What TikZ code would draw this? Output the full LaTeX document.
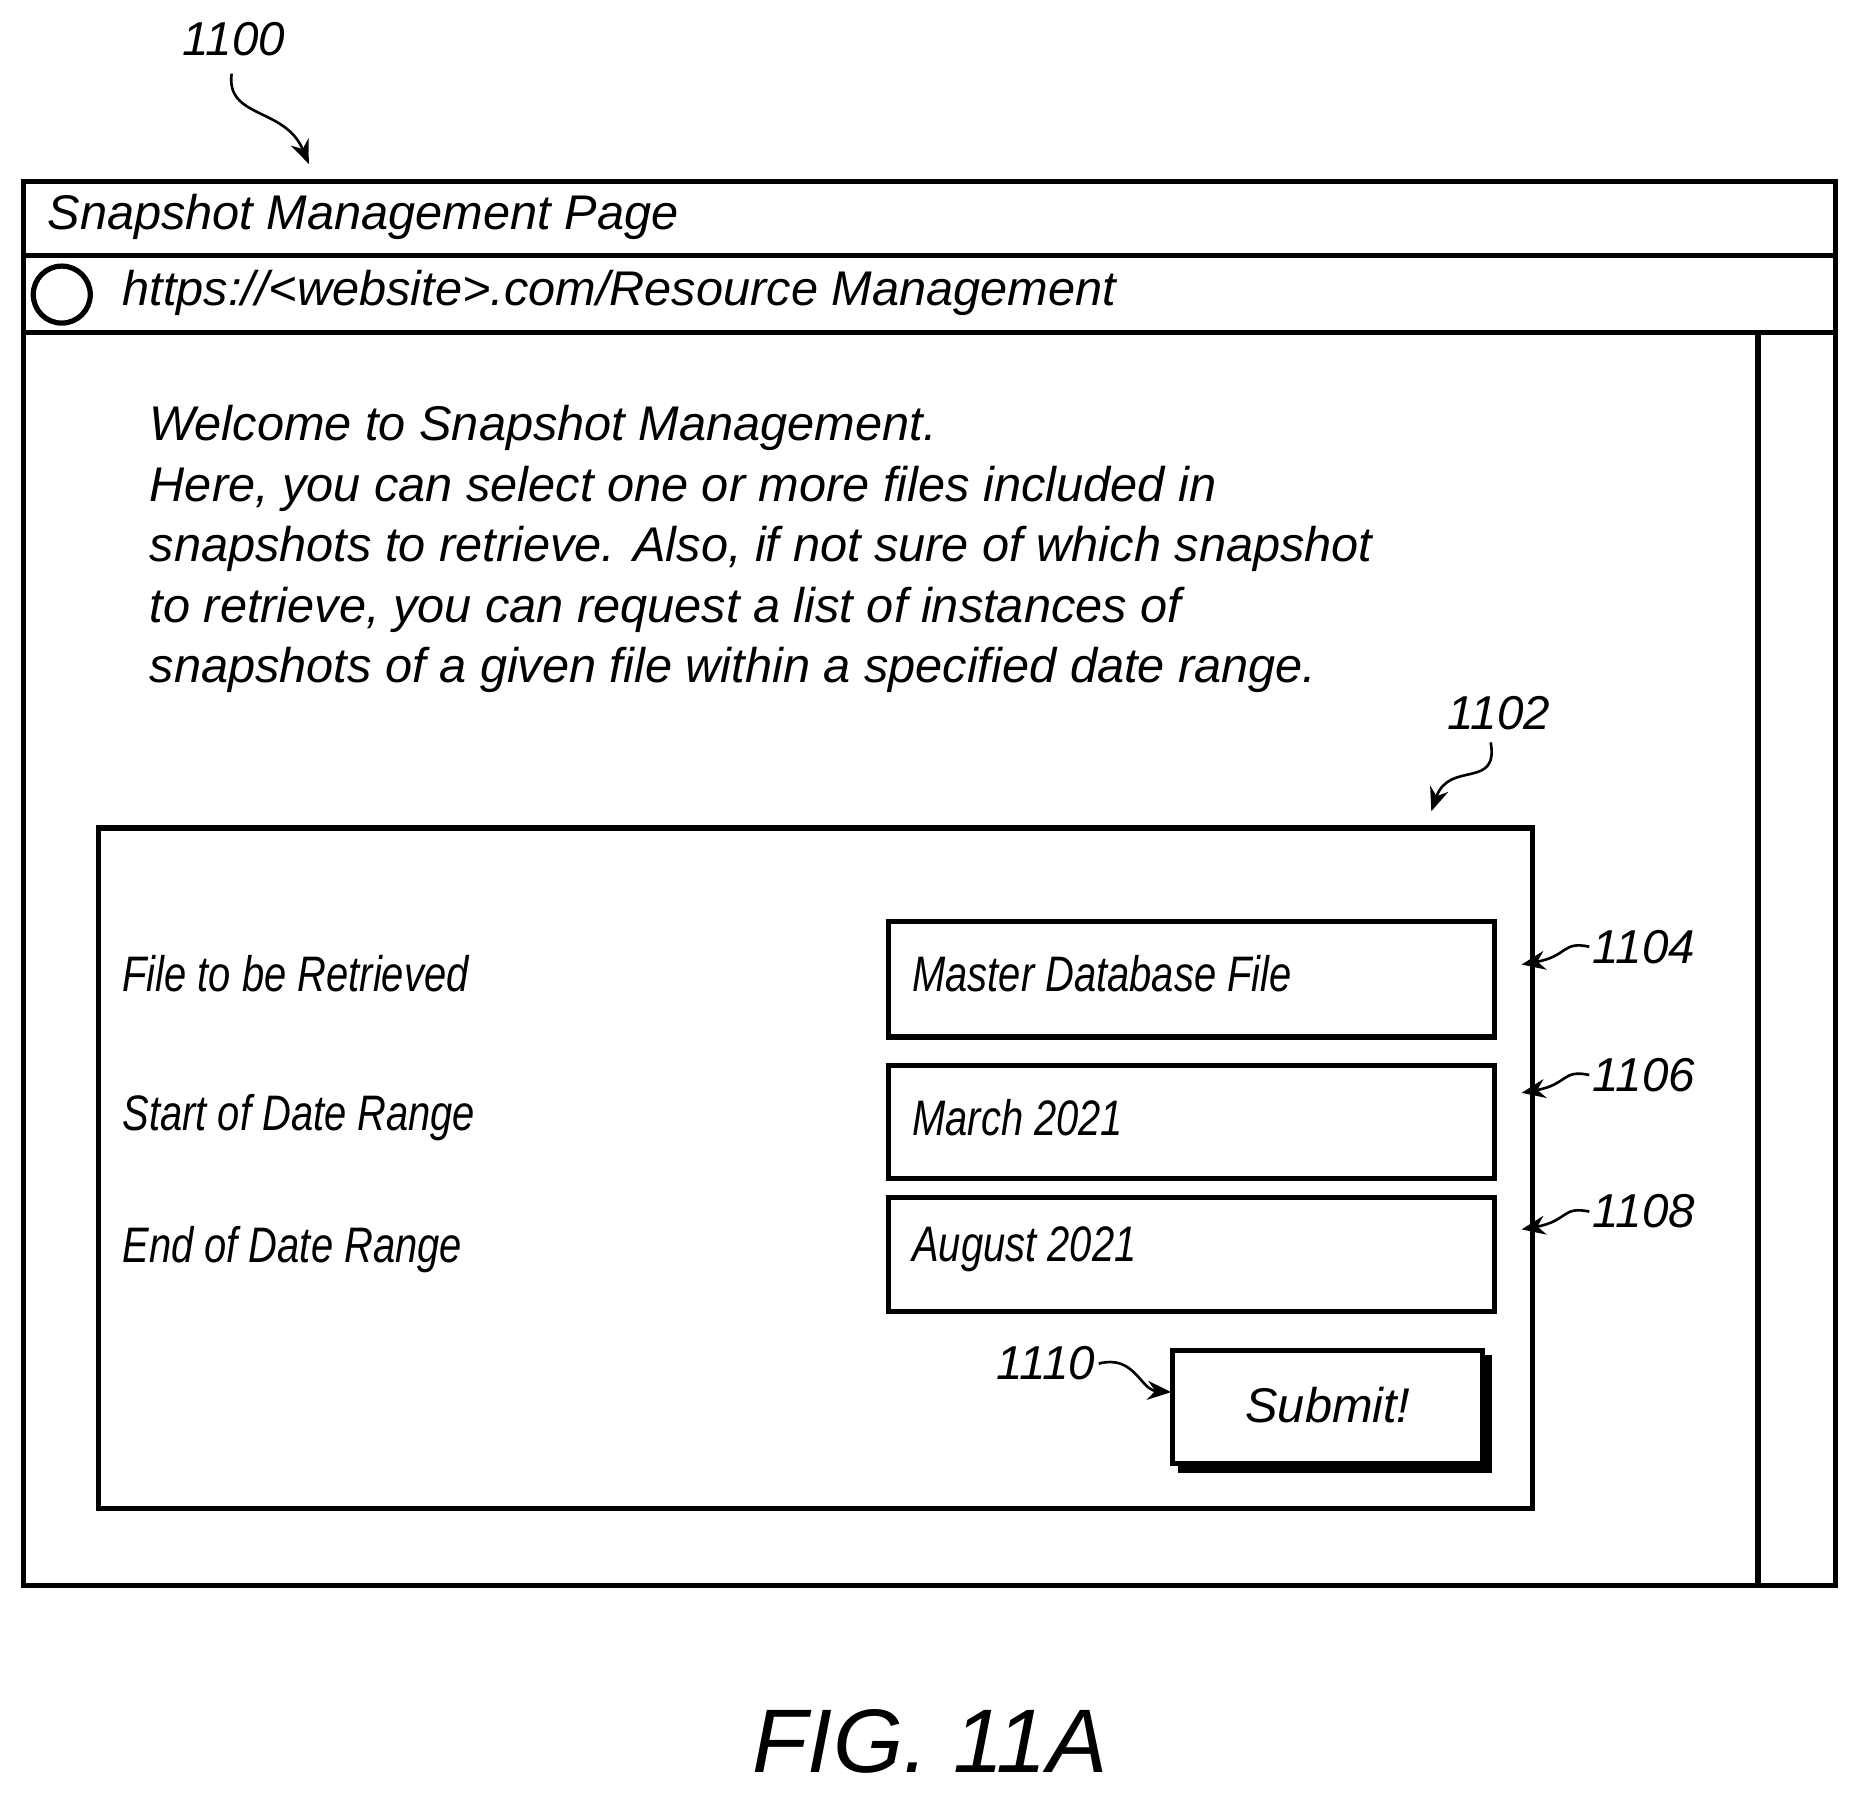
\documentclass[tikz,border=0pt]{standalone}
\usepackage{fontspec}
\setmainfont{Liberation Sans}
\newfontfamily\narrowfont{Liberation Sans}[FakeStretch=0.80]
\usetikzlibrary{arrows.meta}
\tikzset{every picture/.style={line width=1.6pt}}
\tikzset{
  frame/.style={draw, line width=2.2pt},
  reftext/.style={font=\fontsize{20}{24}\selectfont\itshape, inner sep=0.75pt},
  pagetext/.style={font=\fontsize{20.5}{25.5}\selectfont\itshape, inner sep=0.75pt},
  formtext/.style={font=\narrowfont\fontsize{21}{25}\selectfont\itshape, inner sep=0.75pt},
  refarrow/.style={-{Stealth[length=10pt,width=8pt]}, line width=1.1pt},
}
\begin{document}
\begin{tikzpicture}[x=0.5pt,y=0.5pt,yscale=-1,xscale=1]
\useasboundingbox (0,0) rectangle (1560,1512);

%Window
\draw [frame] (20,153) rectangle (1545,1335) ;
\draw [frame] (20,215) -- (1545,215) ;
\draw [frame] (20,280) -- (1545,280) ;
\draw [frame] (1480,280) -- (1480,1335) ;
\draw [frame] (52,248) circle (24) ;

% Text Node
\node (title) [pagetext, anchor=west] at (37,183) {Snapshot Management Page};
\node (url) [pagetext, anchor=west] at (100,247) {https://<website>.com/Resource Management};
\node (welcome) [pagetext, anchor=north west, align=left, font=\fontsize{20.5}{25.5}\selectfont\itshape] at (123,338)
  {Welcome to Snapshot Management.\\
   Here, you can select one or more files included in\\
   snapshots to retrieve. Also, if not sure of which snapshot\\
   to retrieve, you can request a list of instances of\\
   snapshots of a given file within a specified date range.};

%Form
\draw [frame] (83,697) rectangle (1290,1270) ;
\node (lfile) [formtext, anchor=west] at (100,820) {File to be Retrieved};
\node (lstart) [formtext, anchor=west] at (100,941) {Start of Date Range};
\node (lend) [formtext, anchor=west] at (100,1052) {End of Date Range};

\draw [frame] (748,776) rectangle (1258,873) ;
\draw [frame] (748,897) rectangle (1258,992) ;
\draw [frame] (748,1008) rectangle (1258,1104) ;
\node (ffile) [formtext, anchor=west] at (765,820) {Master Database File};
\node (fstart) [formtext, anchor=west] at (765,941) {March 2021};
\node (fend) [formtext, anchor=west] at (765,1052) {August 2021};

%Button
\draw [line width=4pt] (992,1236) -- (1252,1236) -- (1252,1141) ;
\draw [frame] (987,1137) rectangle (1248,1232) ;
\node (submit) [pagetext] at (1118,1183) {Submit!};

%References
\node (r1100) [reftext] at (197,33) {1100};
\coordinate (t1100) at (260,138);
\draw [refarrow] (195,62) .. controls (190,100) and (240,90) .. (t1100) ;
\node (r1102) [reftext] at (1262,600) {1102};
\coordinate (t1102) at (1205,683);
\draw [refarrow] (1255,625) .. controls (1262,665) and (1220,640) .. (t1102) ;
\node (r1104) [reftext, anchor=west] at (1338,797) {1104};
\node (r1106) [reftext, anchor=west] at (1338,905) {1106};
\node (r1108) [reftext, anchor=west] at (1338,1020) {1108};
\coordinate (t1104) at (1281,812);
\coordinate (t1106) at (1281,920);
\coordinate (t1108) at (1281,1035);
\draw [refarrow] (r1104.west) .. controls (1315,792) and (1320,805) .. (t1104) ;
\draw [refarrow] (r1106.west) .. controls (1315,900) and (1320,913) .. (t1106) ;
\draw [refarrow] (r1108.west) .. controls (1315,1015) and (1320,1028) .. (t1108) ;
\node (r1110) [reftext, anchor=east] at (925,1148) {1110};
\coordinate (t1110) at (986,1172);
\draw [refarrow] (r1110.east) .. controls (955,1140) and (960,1170) .. (t1110) ;

% Caption
\node (fig) [font=\fontsize{38}{44}\selectfont\itshape] at (783,1466) {FIG. 11A};
\end{tikzpicture}
\end{document}
